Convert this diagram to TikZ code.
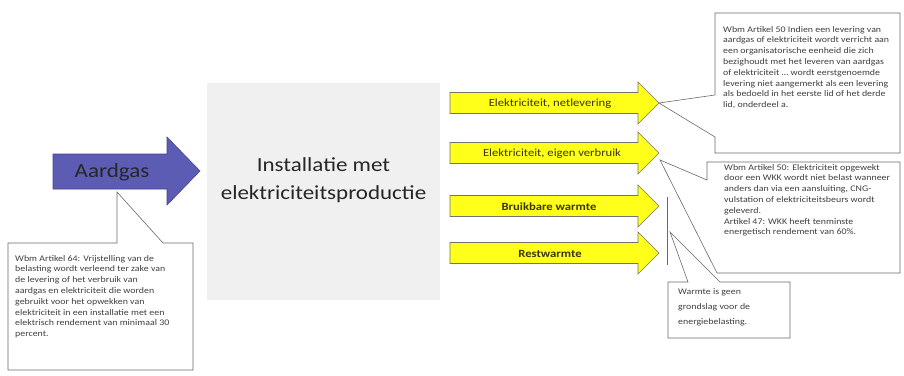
\documentclass[tikz,border=0pt]{standalone}
\usepackage{fontspec}
\setmainfont{Carlito}[FakeStretch=1.15]
\definecolor{boxgray}{HTML}{F0F0F0}
\definecolor{aardfill}{HTML}{5C5CB4}
\definecolor{aarddraw}{HTML}{45458F}
\definecolor{ylw}{HTML}{FFFF1A}
\definecolor{ylwtext}{HTML}{3A3410}
\definecolor{cline}{HTML}{6A6A6A}
\begin{document}
\begin{tikzpicture}[x=1pt,y=-1pt,
  callout/.style={draw=cline, line width=0.6pt, fill=white, line join=miter},
  ctext/.style={anchor=north west, align=left, inner sep=0pt, text=black!75,
    font=\fontsize{8.6}{10.8}\selectfont},
  yarrow/.style={draw=black!55, fill=ylw, line width=0.6pt},
  ylabel/.style={inner sep=0pt, text=ylwtext, font=\fontsize{11}{13}\selectfont}]
\useasboundingbox (0,0) rectangle (904,375);
\fill[white] (0,0) rectangle (904,375);

% central grey box
\node (inst) [fill=boxgray, minimum width=233pt, minimum height=217pt, inner sep=0pt] at (323.5,191.5) {};
\node (insttext) [align=center, inner sep=0pt, text=black!85, font=\fontsize{20}{28}\selectfont] at (323.5,180) {Installatie met\\elektriciteitsproductie};

% Aardgas arrow
\draw[fill=aardfill, draw=aarddraw, line width=0.6pt] (53,154) -- (167,154) -- (167,137) -- (200,171) -- (167,205) -- (167,189) -- (53,189) -- cycle;
\node (aard) [inner sep=0pt, text=black!85, font=\fontsize{20}{24}\selectfont] at (112,172) {Aardgas};

% yellow arrows
\foreach \cy/\nm in {103/a1, 153/a2, 206/a3, 253/a4}{
  \draw[yarrow] (450,\cy-10.5) -- (638,\cy-10.5) -- (638,\cy-21) -- (659,\cy) -- (638,\cy+21) -- (638,\cy+10.5) -- (450,\cy+10.5) -- cycle;
  \coordinate (\nm) at (659,\cy);
}
\node (l1) [ylabel] at (550,104) {Elektriciteit, netlevering};
\node (l2) [ylabel] at (552,154) {Elektriciteit, eigen verbruik};
\node (l3) [ylabel, font=\fontsize{11}{13}\bfseries] at (549,207) {Bruikbare warmte};
\node (l4) [ylabel, font=\fontsize{11}{13}\bfseries] at (550,254) {Restwarmte};

% callout 1 (Aardgas)
\coordinate (t1) at (117,192);
\draw[callout] (8,243) -- (117,243) -- (t1) -- (163,243) -- (193,243) -- (193,370) -- (8,370) -- cycle;
\node (c1) [ctext] at (15,255) {Wbm Artikel 64: Vrijstelling van de\\belasting wordt verleend ter zake van\\de levering of het verbruik van\\aardgas en elektriciteit die worden\\gebruikt voor het opwekken van\\elektriciteit in een installatie met een\\elektrisch rendement van minimaal 30\\percent.};

% callout 2
\draw[callout] (715,13) -- (900,13) -- (900,153) -- (715,153) -- (715,137) -- (a1) -- (715,95) -- cycle;
\node (c2) [ctext] at (723,26) {Wbm Artikel 50 Indien een levering van\\aardgas of elektriciteit  wordt verricht aan\\een organisatorische eenheid die zich\\bezighoudt met het leveren van aardgas\\of elektriciteit  \dots\ wordt eerstgenoemde\\levering niet aangemerkt als een levering\\als bedoeld in het eerste lid of het derde\\lid, onderdeel a.};

% callout 3
\draw[callout] (707,162) -- (900,162) -- (900,273) -- (717,273) -- (660,160) -- (707,180) -- cycle;
\node (c3) [ctext] at (724,164) {Wbm Artikel 50: Elektriciteit opgewekt\\door een WKK wordt niet belast wanneer\\anders dan via een aansluiting, CNG-\\vulstation of elektriciteitsbeurs wordt\\geleverd.\\Artikel 47: WKK heeft tenminste\\energetisch rendement van 60\%.};

% callout 4
\coordinate (t4) at (670,232);
\draw[cline, line width=0.6pt] (667,197) -- (667,265);
\draw[callout] (668,282) -- (688,282) -- (t4) -- (720,282) -- (790,282) -- (790,338) -- (668,338) -- cycle;
\node (c4) [ctext, font=\fontsize{8.6}{15}\selectfont] at (678,288) {Warmte is geen\\grondslag voor de\\energiebelasting.};
\end{tikzpicture}
\end{document}
